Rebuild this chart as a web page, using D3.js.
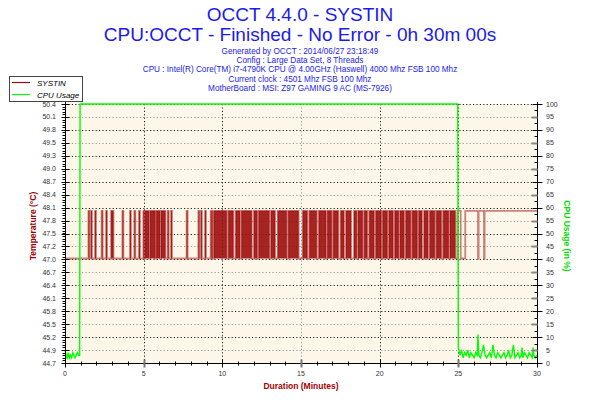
<!DOCTYPE html>
<html>
<head>
<meta charset="utf-8">
<script src="https://cdn.jsdelivr.net/npm/d3@7"></script>
<style>
  body { margin: 0; background: #fff; }
  svg { display: block; }
</style>
</head>
<body>
<div id="chart"></div>
<script>
// OCCT 4.4.0 SYSTIN graph: values

const titleLines = ["OCCT 4.4.0 - SYSTIN", "CPU:OCCT - Finished - No Error - 0h 30m 00s"];
const infoLines = [
    "Generated by OCCT : 2014/06/27 23:18:49",
    "Config : Large Data Set, 8 Threads",
    "CPU : Intel(R) Core(TM) i7-4790K CPU @ 4.00GHz (Haswell) 4000 Mhz FSB 100 Mhz",
    "Current clock : 4501 Mhz FSB 100 Mhz",
    "MotherBoard : MSI: Z97 GAMING 9 AC (MS-7926)"
];

const tempDomain = [44.7, 50.4];
const tempLabels = ["44.7", "44.9", "45.2", "45.5", "45.8", "46.1", "46.4", "46.7", "47.0", "47.2",
    "47.5", "47.8", "48.1", "48.4", "48.7", "49.0", "49.3", "49.5", "49.8", "50.1", "50.4"];
const cpuLabels = [0, 5, 10, 15, 20, 25, 30, 35, 40, 45, 50, 55, 60, 65, 70, 75, 80, 85, 90, 95, 100];
const minuteLabels = [0, 5, 10, 15, 20, 25, 30];

// SYSTIN toggles between two readings
const tempLow = 47.0;
const tempHigh = 48.05;
// spans (minutes) where the reading flickered up to the high value
const tempFlickerSpans = [
    [1.49, 1.55], [1.65, 1.71], [1.91, 1.97], [2.33, 2.39], [2.61, 2.67], [2.93, 3.08],
    [3.65, 3.71], [4.13, 4.19], [4.41, 4.47], [4.70, 4.76], [4.98, 5.03],
    [5.07, 5.35], [5.40, 5.75], [5.80, 6.05], [6.10, 6.38],
    [6.53, 6.59], [6.74, 6.80], [7.73, 7.79], [8.48, 8.54], [8.64, 8.70], [8.90, 8.96],
    [9.26, 9.31], [9.33, 9.38],
    [9.45, 10.28], [10.38, 10.70], [10.85, 11.12], [11.21, 11.87], [12.01, 12.22],
    [12.31, 12.99], [13.09, 13.35], [13.52, 14.09], [14.19, 14.85], [15.11, 15.40],
    [15.53, 16.00], [16.13, 16.59], [16.67, 16.95], [17.05, 17.37], [17.52, 17.73],
    [17.86, 18.18], [18.37, 18.54], [18.62, 18.92], [19.02, 19.21], [19.34, 19.64],
    [19.75, 20.10], [20.19, 20.49], [20.59, 20.85], [20.96, 21.21], [21.29, 21.55],
    [21.66, 21.97], [22.07, 22.39], [22.48, 22.69], [22.82, 23.07], [23.18, 23.50],
    [23.60, 23.92], [24.04, 24.39], [24.47, 24.81]
];
// spans where it stayed on the high value after the load stopped
const tempSteadySpans = [[24.95, 25.15], [25.44, 26.25], [26.29, 26.63], [26.67, 30.00]];

// CPU usage in %, [minute, value]
const cpuIdleBefore = [[0, 5], [0.07, 3], [0.14, 2], [0.21, 4], [0.28, 2], [0.35, 3], [0.42, 2],
    [0.50, 4], [0.57, 3], [0.64, 2], [0.71, 3], [0.78, 4], [0.85, 3], [0.93, 3]];
const cpuLoad = [[0.96, 100], [24.96, 100]];
const cpuIdleAfter = [[25.0, 6], [25.1, 3], [25.2, 5], [25.3, 2], [25.4, 4], [25.5, 3], [25.6, 5],
    [25.7, 2], [25.8, 4], [25.9, 3], [26.0, 2], [26.1, 4], [26.2, 3], [26.25, 11], [26.3, 3],
    [26.4, 2], [26.5, 4], [26.6, 7], [26.7, 3], [26.8, 2], [26.9, 3], [27.0, 4], [27.1, 2],
    [27.2, 7], [27.3, 3], [27.4, 2], [27.5, 4], [27.6, 3], [27.7, 2], [27.8, 3], [27.9, 4],
    [28.0, 2], [28.1, 3], [28.2, 5], [28.3, 2], [28.4, 3], [28.5, 7], [28.6, 2], [28.7, 3],
    [28.8, 4], [28.9, 2], [29.0, 3], [29.05, 6], [29.1, 2], [29.2, 4], [29.3, 3], [29.4, 2],
    [29.5, 4], [29.6, 3], [29.7, 2], [29.75, 6], [29.8, 3], [29.9, 2], [30.0, 3]];

const width = 600;
const height = 400;
const RED = "#9c0c0c";
const GREEN = "#00ff00";
const BLUE = "#1a1aee";
const AXIS_RED = "#a00000";

const svg = d3
    .select("#chart")
    .append("svg")
    .attr("width", width)
    .attr("height", height)
    .style("font-family", "'Liberation Sans', Arial, sans-serif");

// Scales
const x = d3.scaleLinear().domain([0, 30]).range([65, 537]);
const yT = d3.scaleLinear().domain(tempDomain).range([363, 104]);
const yC = d3.scaleLinear().domain([0, 100]).range([363, 104]);
const tempStep = (tempDomain[1] - tempDomain[0]) / (tempLabels.length - 1);
const tempTicks = tempLabels.map((l, i) => tempDomain[0] + i * tempStep);

// Titles
svg.selectAll("text.title")
    .data(titleLines)
    .enter()
    .append("text")
    .attr("class", "title")
    .attr("x", 300)
    .attr("y", (d, i) => 21 + i * 20)
    .attr("text-anchor", "middle")
    .attr("font-size", 19)
    .attr("fill", BLUE)
    .text((d) => d);

svg.selectAll("text.info")
    .data(infoLines)
    .enter()
    .append("text")
    .attr("class", "info")
    .attr("x", 300)
    .attr("y", (d, i) => 54 + i * 9.2)
    .attr("text-anchor", "middle")
    .attr("font-size", 8.2)
    .attr("fill", BLUE)
    .text((d) => d);

// Plot background
svg.append("rect")
    .attr("x", x(0))
    .attr("y", yC(100))
    .attr("width", x(30) - x(0))
    .attr("height", yC(0) - yC(100))
    .attr("fill", "#fdf7e9");

// Grid
const grid = svg.append("g").attr("fill", "none").attr("stroke-dasharray", "1.2,2.2");
grid.selectAll("line.h")
    .data(cpuLabels.slice(1))
    .enter()
    .append("line")
    .attr("x1", x(0))
    .attr("x2", x(30))
    .attr("y1", (d) => Math.round(yC(d)) + 0.5)
    .attr("y2", (d) => Math.round(yC(d)) + 0.5)
    .attr("stroke", (d) => (d % 10 === 0 ? "#222" : "#999"));
grid.selectAll("line.v")
    .data(minuteLabels.slice(1, -1))
    .enter()
    .append("line")
    .attr("x1", (d) => Math.round(x(d)) + 0.5)
    .attr("x2", (d) => Math.round(x(d)) + 0.5)
    .attr("y1", yC(100))
    .attr("y2", yC(0))
    .attr("stroke", (d) => (d === 15 ? "#999" : "#222"));

// Temperature series, stepped
function stepPoints(spans) {
    const pts = [];
    spans.forEach(([a, b]) => {
        pts.push([a, tempLow], [a, tempHigh], [b, tempHigh]);
        if (b < 30) pts.push([b, tempLow]);
    });
    return pts;
}
const flickerPoints = stepPoints(tempFlickerSpans);
const tempPoints = [[0, tempLow]].concat(flickerPoints, stepPoints(tempSteadySpans));

// dense flicker reads as a solid band
svg.append("path")
    .datum([[0, tempLow]].concat(flickerPoints, [[30, tempLow]]))
    .attr("d", d3.area().x((d) => x(d[0])).y0(yT(tempLow)).y1((d) => yT(d[1])))
    .attr("fill", RED)
    .attr("fill-opacity", 0.9);
svg.append("path")
    .datum(tempPoints)
    .attr("d", d3.line().x((d) => x(d[0])).y((d) => yT(d[1])))
    .attr("fill", "none")
    .attr("stroke", RED)
    .attr("stroke-opacity", 0.5)
    .attr("stroke-width", 1.8);

// CPU series
const cpuPoints = cpuIdleBefore.concat(cpuLoad, cpuIdleAfter);
svg.append("path")
    .datum(cpuPoints)
    .attr("d", d3.line().x((d) => x(d[0])).y((d) => yC(d[1])))
    .attr("fill", "none")
    .attr("stroke", GREEN)
    .attr("stroke-width", 1.4);

// Axes
const axes = svg.append("g").attr("stroke", "#000").attr("stroke-width", 1);
const xL = Math.round(x(0)) + 0.5;
const xR = Math.round(x(30)) + 0.5;
const yB = Math.round(yC(0)) + 0.5;

axes.append("line").attr("x1", xL).attr("x2", xL).attr("y1", yC(100) - 2).attr("y2", yB + 3);
axes.append("line").attr("x1", xR).attr("x2", xR).attr("y1", yC(100) - 2).attr("y2", yB + 3);
axes.append("line").attr("x1", xL - 3).attr("x2", xR + 3).attr("y1", yB).attr("y2", yB);

// left axis ticks
const leftMinor = d3.range(0, (tempLabels.length - 1) * 5).map((i) => tempDomain[0] + (i * tempStep) / 5);
axes.selectAll("line.lminor")
    .data(leftMinor)
    .enter()
    .append("line")
    .attr("x1", xL - 3)
    .attr("x2", xL)
    .attr("y1", (d) => Math.round(yT(d)) + 0.5)
    .attr("y2", (d) => Math.round(yT(d)) + 0.5);
axes.selectAll("line.lmajor")
    .data(tempTicks)
    .enter()
    .append("line")
    .attr("x1", xL - 4)
    .attr("x2", xL + 4)
    .attr("y1", (d) => Math.round(yT(d)) + 0.5)
    .attr("y2", (d) => Math.round(yT(d)) + 0.5);
svg.selectAll("text.tl")
    .data(tempLabels)
    .enter()
    .append("text")
    .attr("class", "tl")
    .attr("x", 56)
    .attr("y", (d, i) => yT(tempTicks[i]) + 2.5)
    .attr("text-anchor", "end")
    .attr("font-size", 7)
    .attr("fill", "#333")
    .text((d) => d);

// right axis ticks
axes.selectAll("line.rminor")
    .data(d3.range(2.5, 100, 5))
    .enter()
    .append("line")
    .attr("x1", xR - 3)
    .attr("x2", xR)
    .attr("y1", (d) => Math.round(yC(d)) + 0.5)
    .attr("y2", (d) => Math.round(yC(d)) + 0.5);
axes.selectAll("line.rmajor")
    .data(cpuLabels)
    .enter()
    .append("line")
    .attr("x1", (d) => (d % 10 === 0 ? xR - 5 : xR - 6))
    .attr("x2", (d) => (d % 10 === 0 ? xR + 5 : xR))
    .attr("y1", (d) => Math.round(yC(d)) + 0.5)
    .attr("y2", (d) => Math.round(yC(d)) + 0.5)
    .attr("stroke", (d) => (d % 10 === 0 ? "#000" : "#888"))
    .attr("stroke-width", (d) => (d % 10 === 0 ? 1 : 2));
svg.selectAll("text.tr")
    .data(cpuLabels)
    .enter()
    .append("text")
    .attr("class", "tr")
    .attr("x", 546)
    .attr("y", (d) => yC(d) + 2.5)
    .attr("font-size", 7)
    .attr("fill", "#333")
    .text((d) => d);

// bottom axis ticks
axes.selectAll("line.bt")
    .data(d3.range(0, 31))
    .enter()
    .append("line")
    .attr("x1", (d) => Math.round(x(d)) + 0.5)
    .attr("x2", (d) => Math.round(x(d)) + 0.5)
    .attr("y1", (d) => (d % 5 === 0 ? yB - 4 : yB - 2))
    .attr("y2", (d) => (d % 5 === 0 ? yB + 4 : yB + 2))
    .attr("stroke", (d) => (d % 5 === 0 && d % 10 !== 0 ? "#777" : "#000"))
    .attr("stroke-width", (d) => (d % 5 === 0 && d % 10 !== 0 ? 2 : 1));
svg.selectAll("text.bl")
    .data(minuteLabels)
    .enter()
    .append("text")
    .attr("class", "bl")
    .attr("x", (d) => x(d))
    .attr("y", 376)
    .attr("text-anchor", "middle")
    .attr("font-size", 7)
    .attr("fill", "#333")
    .text((d) => d);

// Axis titles
svg.append("text")
    .attr("x", 301)
    .attr("y", 389)
    .attr("text-anchor", "middle")
    .attr("font-size", 8.5)
    .attr("font-weight", "bold")
    .attr("fill", AXIS_RED)
    .text("Duration (Minutes)");
svg.append("text")
    .attr("transform", "translate(36,226) rotate(-90)")
    .attr("text-anchor", "middle")
    .attr("font-size", 8.5)
    .attr("font-weight", "bold")
    .attr("fill", AXIS_RED)
    .text("Temperature (°C)");
svg.append("text")
    .attr("transform", "translate(564,236) rotate(90)")
    .attr("text-anchor", "middle")
    .attr("font-size", 8.5)
    .attr("font-weight", "bold")
    .attr("fill", "#00dd00")
    .text("CPU Usage (in %)");

// Legend
const legendItems = [
    { label: "SYSTIN", color: RED },
    { label: "CPU Usage", color: GREEN }
];
const legend = svg.append("g");
legend.append("rect")
    .attr("x", 9.5)
    .attr("y", 76.5)
    .attr("width", 73)
    .attr("height", 25)
    .attr("fill", "#fff")
    .attr("stroke", "#444");
const li = legend.selectAll("g.item")
    .data(legendItems)
    .enter()
    .append("g")
    .attr("transform", (d, i) => `translate(12,${82.5 + i * 12})`);
li.append("line")
    .attr("x1", 0)
    .attr("x2", 18)
    .attr("stroke", (d) => d.color)
    .attr("stroke-width", 1.2);
li.append("text")
    .attr("x", 25)
    .attr("y", 3)
    .attr("font-size", 8)
    .attr("font-style", "italic")
    .attr("fill", "#000")
    .text((d) => d.label);
</script>
</body>
</html>
